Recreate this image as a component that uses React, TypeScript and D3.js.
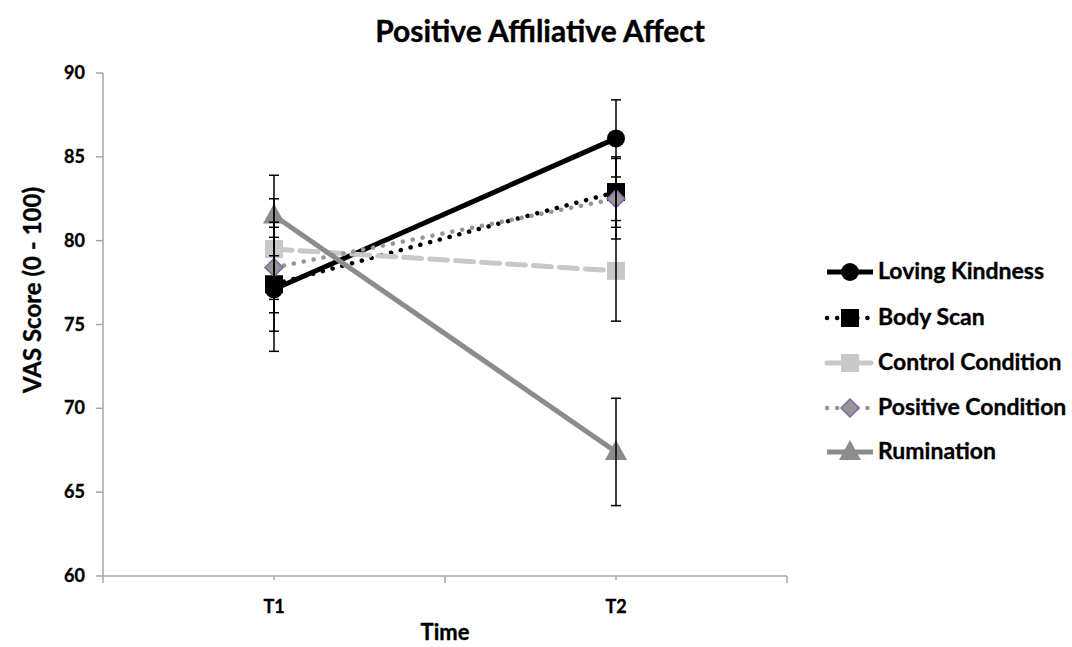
import React from "react";
import * as d3 from "d3";

const categories = ["T1", "T2"];
const seriesNames = ["Loving Kindness", "Body Scan", "Control Condition", "Positive Condition", "Rumination"];
const lovingKindness = [77.1, 86.1];
const bodyScan = [77.4, 82.9];
const controlCondition = [79.5, 78.2];
const positiveCondition = [78.4, 82.5];
const rumination = [81.5, 67.4];
const errLovingKindness = [3.7, 2.3];
const errBodyScan = [2.8, 2.1];
const errControl = [3.0, 3.0];
const errPositive = [2.7, 2.4];
const errRumination = [2.4, 3.2];
const yTicks = [60, 65, 70, 75, 80, 85, 90];

const FONT = "Lato, 'Open Sans', sans-serif";

type Style = {
  color: string;
  width: number;
  dash: string;
  cap: "round" | "butt";
  marker: "circle" | "square" | "diamond" | "triangle";
  mfill: string;
  mstroke: string;
};

const styles: Style[] = [
  { color: "#000", width: 5, dash: "", cap: "butt", marker: "circle", mfill: "#000", mstroke: "#000" },
  { color: "#000", width: 4.5, dash: "0.1 10", cap: "round", marker: "square", mfill: "#000", mstroke: "#000" },
  { color: "#c8c8c8", width: 5, dash: "18 8", cap: "round", marker: "square", mfill: "#c8c8c8", mstroke: "#c8c8c8" },
  { color: "#969696", width: 4.5, dash: "0.1 10", cap: "round", marker: "diamond", mfill: "#969696", mstroke: "#8064a2" },
  { color: "#8c8c8c", width: 5, dash: "", cap: "butt", marker: "triangle", mfill: "#8c8c8c", mstroke: "#8c8c8c" },
];

const values = [lovingKindness, bodyScan, controlCondition, positiveCondition, rumination];
const errors = [errLovingKindness, errBodyScan, errControl, errPositive, errRumination];

function Marker({ kind, x, y, s }: { kind: string; x: number; y: number; s: Style }) {
  if (kind === "circle") return <circle cx={x} cy={y} r={9} fill={s.mfill} filter="url(#soft)" />;
  if (kind === "square")
    return <rect x={x - 9} y={y - 9} width={18} height={18} fill={s.mfill} filter="url(#soft)" />;
  if (kind === "diamond")
    return (
      <path
        d={`M${x},${y - 9}L${x + 9},${y}L${x},${y + 9}L${x - 9},${y}Z`}
        fill={s.mfill}
        stroke={s.mstroke}
        strokeWidth={1.5}
        filter="url(#soft)"
      />
    );
  return <path d={`M${x},${y - 12}L${x + 11},${y + 8}L${x - 11},${y + 8}Z`} fill={s.mfill} filter="url(#soft)" />;
}

export default function App() {
  const W = 1072, H = 647;
  const left = 103, right = 787, top = 73, bottom = 576;
  const x = d3.scaleBand<string>().domain(categories).range([left, right]);
  const y = d3.scaleLinear().domain([60, 90]).range([bottom, top]);
  const cx = (c: string) => (x(c) as number) + x.bandwidth() / 2;
  const line = d3
    .line<number>()
    .x((_, i) => cx(categories[i]))
    .y((v) => y(v));

  const majors = [left, x(categories[1]) as number, right];
  const legendY = [272, 318, 363, 408, 452];
  const textStroke = { stroke: "#000", strokeWidth: 0.35 };

  return (
    <svg width={W} height={H} style={{ position: "absolute", left: 0, top: 0 }}>
      <defs>
        <filter id="soft" x="-30%" y="-30%" width="160%" height="160%">
          <feGaussianBlur stdDeviation="0.7" />
        </filter>
      </defs>
      <rect width={W} height={H} fill="#fff" />
      <text x={540} y={42} textAnchor="middle" fontFamily={FONT} fontWeight="bold" fontSize={30} fill="#000" {...textStroke}>
        Positive Affiliative Affect
      </text>
      {/* axes */}
      <line x1={left} x2={left} y1={top} y2={bottom} stroke="#a6a6a6" strokeWidth={1.5} />
      <line x1={left} x2={right} y1={bottom} y2={bottom} stroke="#a6a6a6" strokeWidth={1.5} />
      {yTicks.map((t) => (
        <g key={t}>
          <line x1={left - 7} x2={left} y1={y(t)} y2={y(t)} stroke="#a6a6a6" strokeWidth={1.5} />
          <text x={85} y={y(t) + 6} textAnchor="end" fontFamily={FONT} fontWeight="bold" fontSize={18} {...textStroke}>
            {t}
          </text>
        </g>
      ))}
      {majors.map((m, i) => (
        <line key={"M" + i} x1={m} x2={m} y1={bottom} y2={bottom + 7} stroke="#a6a6a6" strokeWidth={1.5} />
      ))}
      {categories.map((c) => (
        <g key={c}>
          <line x1={cx(c)} x2={cx(c)} y1={bottom} y2={bottom + 4} stroke="#a6a6a6" strokeWidth={1.5} />
          <text x={cx(c)} y={613} textAnchor="middle" fontFamily={FONT} fontWeight="bold" fontSize={18} {...textStroke}>
            {c}
          </text>
        </g>
      ))}
      <text x={445} y={640} textAnchor="middle" fontFamily={FONT} fontWeight="bold" fontSize={22} {...textStroke}>
        Time
      </text>
      <text
        transform={`translate(41,290) rotate(-90)`}
        textAnchor="middle"
        fontFamily={FONT}
        fontWeight="bold"
        fontSize={24}
        {...textStroke}
      >
        VAS Score (0 - 100)
      </text>
      {/* series */}
      {values.map((vals, si) => {
        const s = styles[si];
        return (
          <g key={si}>
            <path
              d={line(vals) as string}
              fill="none"
              stroke={s.color}
              strokeWidth={s.width}
              strokeDasharray={s.dash}
              strokeLinecap={s.cap}
            />
            {vals.map((v, i) => (
              <Marker key={i} kind={s.marker} x={cx(categories[i])} y={y(v)} s={s} />
            ))}
          </g>
        );
      })}
      {/* error bars */}
      {values.map((vals, si) =>
        vals.map((v, i) => {
          const px = cx(categories[i]);
          const e = errors[si][i];
          return (
            <g key={si + "-" + i} stroke="#000" strokeWidth={1.5}>
              <line x1={px} x2={px} y1={y(v + e)} y2={y(v - e)} />
              <line x1={px - 5} x2={px + 5} y1={y(v + e)} y2={y(v + e)} />
              <line x1={px - 5} x2={px + 5} y1={y(v - e)} y2={y(v - e)} />
            </g>
          );
        })
      )}
      {/* legend */}
      {seriesNames.map((n, i) => {
        const s = styles[i];
        const ly = legendY[i];
        return (
          <g key={n}>
            <line
              x1={827}
              x2={873}
              y1={ly}
              y2={ly}
              stroke={s.color}
              strokeWidth={s.width}
              strokeDasharray={s.dash}
              strokeLinecap={s.cap}
            />
            <Marker kind={s.marker} x={850} y={ly} s={s} />
            <text x={878} y={ly + 7} fontFamily={FONT} fontWeight="bold" fontSize={23} {...textStroke}>
              {n}
            </text>
          </g>
        );
      })}
    </svg>
  );
}
